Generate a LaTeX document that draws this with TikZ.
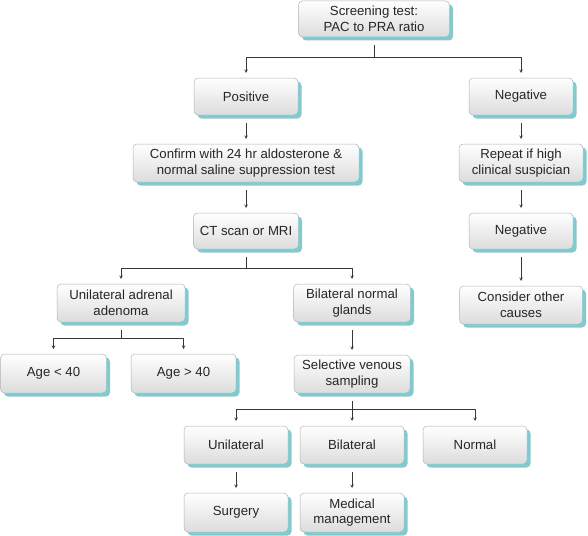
\documentclass[tikz,border=0pt]{standalone}
\usepackage{fontspec}
\setmainfont{Liberation Sans}
\usetikzlibrary{shadows}
\definecolor{boxshadow}{RGB}{124,204,210}
\definecolor{boxline}{RGB}{178,178,178}
\definecolor{boxbottom}{RGB}{220,220,220}
\definecolor{linkgray}{RGB}{55,55,55}
\begin{document}
\begin{tikzpicture}[x=1pt,y=-1pt,>=stealth,line join=round,font=\fontsize{13.2}{15.6}\selectfont,
	box/.style={draw=boxline,line width=0.5pt,rounded corners=4pt,top color=white,bottom color=boxbottom,
		drop shadow={shadow xshift=3.5pt,shadow yshift=-3.5pt,fill=boxshadow,opacity=1},
		align=center,inner sep=2pt,outer sep=0pt,minimum height=37pt,text=black!85},
	trunk/.style={draw=linkgray,line width=0.6pt,shorten <=8pt},
	link/.style={draw=linkgray,line width=0.6pt,->,shorten >=5pt},
	arrowlink/.style={link,shorten <=8pt}]
	\useasboundingbox (0,0) rectangle (588,535);
	\node[box,minimum width=151pt,minimum height=36pt] (screen) at (374,19) {Screening test:\\PAC to PRA ratio};
	\node[box,minimum width=104pt] (pos) at (246,96.5) {Positive};
	\node[box,minimum width=104pt] (neg) at (521,96.5) {Negative};
	\node[box,minimum width=226pt,minimum height=38pt] (confirm) at (246,163) {Confirm with 24 hr aldosterone \&\\normal saline suppression test};
	\node[box,minimum width=105pt,minimum height=36pt] (ct) at (246,231) {CT scan or MRI};
	\node[box,minimum width=124pt,minimum height=38pt] (repeat) at (521,163) {Repeat if high\\clinical suspician};
	\node[box,minimum width=104pt,minimum height=36pt] (neg2) at (521,231) {Negative};
	\node[box,minimum width=123pt,minimum height=38pt] (other) at (521,305) {Consider other\\causes};
	\node[box,minimum width=128pt,minimum height=38pt] (adenoma) at (121,303) {Unilateral adrenal\\adenoma};
	\node[box,minimum width=117pt,minimum height=38pt] (glands) at (352,303) {Bilateral normal\\glands};
	\node[box,minimum width=106pt,minimum height=39pt] (young) at (53.5,373.5) {Age < 40};
	\node[box,minimum width=105pt,minimum height=39pt] (old) at (183.5,373.5) {Age > 40};
	\node[box,minimum width=116pt,minimum height=38pt] (venous) at (352,374) {Selective venous\\sampling};
	\node[box,minimum width=104pt,minimum height=38pt] (unilat) at (236,445) {Unilateral};
	\node[box,minimum width=104pt,minimum height=38pt] (bilat) at (352,445) {Bilateral};
	\node[box,minimum width=104pt,minimum height=38pt] (normal) at (475,445) {Normal};
	\node[box,minimum width=104pt,minimum height=39pt] (surgery) at (236,512.5) {Surgery};
	\node[box,minimum width=104pt,minimum height=39pt] (medical) at (352,512.5) {Medical\\management};
	\coordinate (screenfork) at (374,57);
	\coordinate (ctfork) at (246,268);
	\coordinate (adenomafork) at (121,338);
	\coordinate (venousfork) at (352,409);
	\draw[trunk] (screen) -- (screenfork);
	\draw[link] (screenfork) -| (pos);
	\draw[link] (screenfork) -| (neg);
	\draw[arrowlink] (pos) -- (confirm);
	\draw[arrowlink] (confirm) -- (ct);
	\draw[arrowlink] (neg) -- (repeat);
	\draw[arrowlink] (repeat) -- (neg2);
	\draw[arrowlink] (neg2) -- (other);
	\draw[trunk] (ct) -- (ctfork);
	\draw[link] (ctfork) -| (adenoma);
	\draw[link] (ctfork) -| (glands);
	\draw[trunk] (adenoma) -- (adenomafork);
	\draw[link] (adenomafork) -| (young);
	\draw[link] (adenomafork) -| (old);
	\draw[arrowlink] (glands) -- (venous);
	\draw[trunk] (venous) -- (venousfork);
	\draw[link] (venousfork) -| (unilat);
	\draw[link] (venousfork) -- (bilat);
	\draw[link] (venousfork) -| (normal);
	\draw[arrowlink] (unilat) -- (surgery);
	\draw[arrowlink] (bilat) -- (medical);
\end{tikzpicture}
\end{document}
